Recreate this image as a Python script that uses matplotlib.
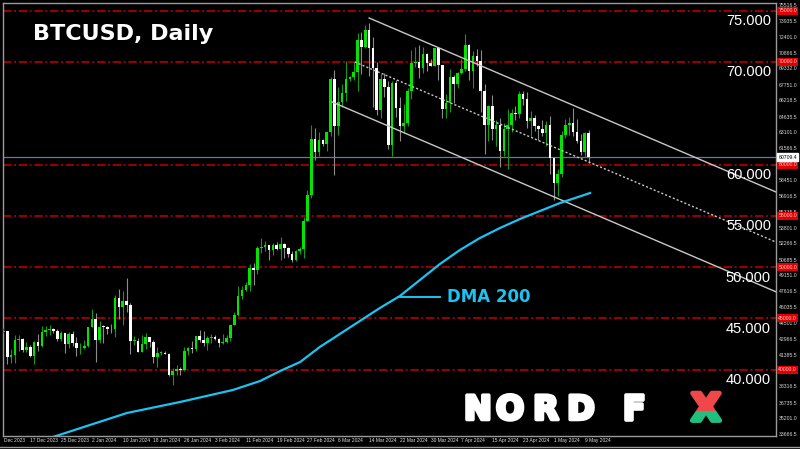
import matplotlib.pyplot as plt
import matplotlib.transforms as mtransforms
import matplotlib.patheffects as pe
from matplotlib.patches import Rectangle
import numpy as np
import pandas as pd

# daily bars, 10 Dec 2023 .. 10 May 2024 (thousands USD)
start = pd.Timestamp('2023-12-10')
origin = pd.Timestamp('2023-12-09')

closes = [
    # Dec
    43.79, 41.24, 41.48, 42.88, 43.02, 41.94, 42.26, 41.37, 42.66, 42.27, 43.65,
    43.87, 43.99, 43.74, 43.02, 43.58, 42.52, 43.44, 42.59, 42.07, 42.14, 42.28,
    # Jan
    44.18, 44.95, 42.85, 44.18, 44.16, 43.97, 43.93, 46.97, 46.12, 46.66, 46.34,
    42.78, 42.84, 41.73, 42.51, 43.15, 42.74, 41.26, 41.62, 41.67, 41.55, 39.51,
    39.85, 40.08, 39.93, 41.82, 42.12, 42.03, 43.30, 42.94, 42.58,
    # Feb
    43.08, 43.18, 43.01, 42.58, 42.66, 43.09, 44.34, 45.30, 47.15, 47.77, 48.29,
    49.96, 49.73, 51.83, 51.94, 52.16, 51.66, 52.12, 51.78, 52.28, 51.84, 51.30,
    50.73, 51.57, 51.73, 54.50, 57.05, 62.50, 61.20,
    # Mar
    62.44, 62.03, 63.17, 68.33, 63.80, 66.10, 66.93, 68.30, 68.50, 69.02, 72.10,
    71.48, 73.08, 71.40, 69.40, 65.30, 68.39, 67.60, 61.91, 67.91, 65.49, 63.78,
    64.06, 67.21, 69.88, 69.99, 69.45, 70.74, 69.89, 69.64, 71.33,
    # Apr
    69.70, 65.45, 65.97, 68.51, 67.84, 68.90, 69.36, 71.62, 69.14, 70.59, 70.06,
    67.19, 63.82, 65.74, 63.42, 63.81, 61.28, 63.51, 63.84, 64.99, 64.93, 66.84,
    66.41, 64.28, 64.50, 63.77, 63.46, 63.12, 63.84, 60.64,
    # May
    58.25, 59.12, 62.89, 63.89, 64.03, 63.16, 62.33, 61.19, 63.05, 60.709,
]
highs = [
    44.04, 43.81, 42.05, 43.43, 43.42, 43.08, 42.70, 42.43, 42.75, 43.48, 44.28,
    44.24, 44.37, 44.02, 43.94, 43.79, 43.60, 43.68, 43.80, 43.14, 42.60, 42.90,
    44.18, 45.90, 45.50, 44.73, 44.35, 44.23, 44.50, 47.25, 47.90, 47.68, 48.96,
    46.49, 43.25, 43.05, 43.40, 43.57, 43.20, 42.93, 42.19, 41.83, 41.87, 41.65,
    40.13, 40.50, 40.27, 42.20, 42.20, 42.84, 43.31, 43.84, 43.74,
    43.29, 43.48, 43.38, 43.12, 43.50, 43.38, 44.38, 45.60, 48.20, 48.16, 48.58,
    50.33, 50.38, 52.04, 52.80, 52.57, 52.20, 52.36, 52.48, 52.95, 52.37, 52.00,
    51.54, 51.70, 51.95, 54.90, 57.50, 63.90, 63.60,
    63.15, 62.45, 63.20, 68.50, 69.20, 67.60, 67.90, 70.10, 68.60, 69.95, 72.80,
    72.90, 73.65, 73.78, 72.40, 70.00, 68.85, 68.90, 68.10, 68.10, 68.20, 66.60,
    65.90, 67.50, 71.15, 71.50, 71.70, 71.50, 70.90, 70.30, 71.35,
    71.35, 69.70, 66.90, 69.30, 68.75, 69.00, 70.30, 72.75, 71.75, 71.10, 71.30,
    71.20, 67.90, 65.80, 66.80, 64.35, 64.50, 64.10, 65.45, 65.40, 65.70, 67.20,
    67.20, 67.05, 65.25, 64.80, 63.90, 64.35, 64.20, 64.70,
    60.75, 59.55, 63.30, 64.45, 64.60, 65.50, 64.40, 63.00, 63.20, 63.40,
]
lows = [
    43.58, 40.60, 40.65, 40.67, 41.82, 41.69, 41.69, 41.25, 40.55, 41.82, 42.21,
    43.30, 43.42, 43.59, 42.80, 42.76, 41.66, 42.14, 42.35, 41.33, 41.54, 41.97,
    42.20, 44.18, 40.75, 42.63, 42.61, 43.45, 43.60, 43.20, 44.90, 44.33, 45.60,
    41.50, 42.40, 41.72, 41.72, 42.05, 42.20, 40.68, 40.28, 41.45, 41.50, 39.43,
    38.50, 39.50, 39.52, 39.83, 41.40, 41.60, 41.80, 42.68, 42.30,
    41.88, 42.58, 42.89, 42.26, 42.55, 42.59, 42.80, 44.34, 45.25, 46.90, 47.70,
    47.70, 48.30, 49.30, 51.35, 51.60, 50.70, 51.16, 51.70, 50.70, 50.85, 50.95,
    50.52, 50.60, 51.28, 50.92, 54.45, 56.70, 60.40,
    60.80, 61.80, 61.35, 62.80, 59.00, 62.90, 65.60, 66.20, 68.10, 68.20, 67.20,
    68.80, 71.35, 68.60, 65.60, 64.80, 64.55, 66.60, 61.55, 60.80, 64.60, 62.30,
    63.05, 63.80, 66.40, 69.50, 68.40, 68.90, 69.10, 69.60, 69.60,
    68.20, 64.50, 64.50, 65.10, 66.00, 67.45, 68.80, 69.10, 68.20, 67.50, 69.60,
    65.10, 61.00, 62.30, 62.40, 61.80, 59.80, 60.80, 59.60, 63.20, 64.30, 64.55,
    65.85, 63.60, 62.80, 63.30, 62.40, 62.80, 61.80, 59.10,
    56.55, 56.90, 58.80, 62.60, 62.90, 62.80, 62.10, 60.90, 60.70, 60.20,
]
first_open = 43.72

# 200-day moving average (day index, price)
dma_days = [13.9, 33.1, 46.9, 60.6, 67.7, 72.9, 78.1, 83.2, 88.4, 93.6, 98.8,
            104.0, 109.2, 114.4, 119.6, 124.8, 130.0, 135.2, 140.4, 145.6,
            149.5, 153.4]
dma_vals = [33439, 35778, 36850, 38020, 38898, 39873, 40750, 42213, 43480,
            44747, 46015, 47185, 48745, 50305, 51670, 52839, 53814, 54692,
            55472, 56252, 56739, 57227]

# descending channel (start day, start price, end day, end price)
chan_top = (96.0, 74290, 202.0, 57277)
chan_mid = (92.3, 70000, 202.0, 52393)
chan_bot = (86.4, 66100, 202.0, 47546)

levels = [75000, 70000, 60000, 55000, 50000, 45000, 40000]
level_text = ['75.000', '70.000', '60.000', '55.000', '50.000', '45.000', '40.000']
scale_vals = [75516.5, 73935.5, 72401.0, 70866.5, 69332.0, 67751.0, 66218.5,
              64635.5, 63101.0, 61566.5, 60032.0, 58451.0, 56916.5, 55335.5,
              53801.0, 52266.5, 50685.5, 49151.0, 47616.5, 46035.5, 44501.0,
              42966.5, 41385.5, 39851.0, 38316.5, 36735.5, 35201.0, 33666.5]
last_price = 60709.4
date_ticks = pd.date_range('2023-12-09', '2024-05-09', freq='8D')

c = np.array(closes) * 1000
h = np.array(highs) * 1000
l = np.array(lows) * 1000
o = np.concatenate([[first_open * 1000], c[:-1]])
dates = pd.date_range(start, periods=len(c), freq='D')
x = np.array((dates - origin).days, dtype=float)

fig = plt.figure(figsize=(8, 4.49), dpi=100, facecolor='black')
W, H = 800, 449
ax = fig.add_axes([3 / W, 13 / H, 773 / W, 433 / H], facecolor='black')
ax.set_xlim(0.91, 201.7)
ax.set_ylim(33535, 75751)
for s in ax.spines.values():
    s.set_color('#9a9a9a')
    s.set_linewidth(1.0)
ax.set_xticks([])
ax.set_yticks([])

# horizontal levels
for lv in levels:
    ax.axhline(lv, color='#b40000', lw=1.2, ls=(0, (5, 1.6, 1.2, 1.6)), zorder=1)
ax.axhline(last_price, color='#5d7d9c', lw=0.9, zorder=1)

# candles
up = c >= o
wick_col = np.where(up, '#139c13', '#8c8c8c')
ax.vlines(x, l, h, colors=wick_col, lw=0.8, zorder=3)
body_lo = np.minimum(o, c)
body_h = np.maximum(np.abs(c - o), 70)
ax.bar(x[up], body_h[up], bottom=body_lo[up], width=0.68,
       color='#00e600', lw=0, zorder=4)
ax.bar(x[~up], body_h[~up], bottom=body_lo[~up], width=0.68,
       color='#ffffff', lw=0, zorder=4)

# channel
for (x0, y0, x1, y1), ls in [(chan_top, '-'), (chan_bot, '-'), (chan_mid, (0, (1.5, 1.5)))]:
    ax.plot([x0, x1], [y0, y1], color='#c8c8c8', lw=1.0, ls=ls, zorder=5)

# moving average
ax.plot(dma_days, dma_vals, color='#1cc3f2', lw=1.6, zorder=6,
        solid_joinstyle='round')
fig.add_artist(plt.Line2D([398 / W, 440 / W], [1 - 297 / H, 1 - 297 / H],
                          color='#1cc3f2', lw=1.4))
fig.text(447 / W, 1 - 297 / H, 'DMA 200', color='#1cc3f2', fontsize=12,
         fontweight='bold', va='center', ha='left')

# big level labels
off = mtransforms.offset_copy(ax.transData, fig=fig, x=0, y=-10.5, units='dots')
for lv, t in zip(levels, level_text):
    ax.text(200.4, lv, t, transform=off, color='white', fontsize=10.5,
            family='Liberation Sans', ha='right', va='center', zorder=8)

# right price scale
tr = mtransforms.blended_transform_factory(ax.transAxes, ax.transData)
for v in scale_vals:
    ax.text(1.004, v, f'{v:.1f}', transform=tr, color='#d8d8d8', fontsize=3.7,
            family='Liberation Sans', ha='left', va='center', clip_on=False)
for lv in levels:
    ax.text(1.003, lv, f'{lv:.1f}', transform=tr, color='#ffc8c8', fontsize=3.7,
            family='Liberation Sans', ha='left', va='center', clip_on=False, zorder=9,
            bbox=dict(boxstyle='square,pad=0.3', fc='#e00000', ec='none'))
ax.text(1.003, last_price, f'{last_price:.1f}', transform=tr, color='black',
        fontsize=3.7, family='Liberation Sans', ha='left', va='center',
        clip_on=False, zorder=9,
        bbox=dict(boxstyle='square,pad=0.3', fc='white', ec='white'))

# date labels
trx = mtransforms.blended_transform_factory(ax.transData, fig.transFigure)
for i, d in enumerate(date_ticks):
    xd = (d - origin).days
    lab = f'{d.day} {d:%b %Y}' if i > 0 else f'{d:%b %Y}'
    ax.text(max(xd, 1.2), 1 - 440.5 / H, lab, transform=trx, color='#e0e0e0',
            fontsize=3.5, family='Liberation Sans', ha='left', va='center',
            clip_on=False)
fig.add_artist(plt.Line2D([0, 1], [1 - 447 / H, 1 - 447 / H], color='#9a9a9a', lw=1))

# title
fig.text(33 / W, 1 - 33.5 / H, 'BTCUSD, Daily', color='white', fontsize=16,
         fontweight='bold', va='center', ha='left')

# logo
heavy = [pe.withStroke(linewidth=2.6, foreground='white')]
for ch, cx in zip('NORDF', [478, 510, 546, 581, 634]):
    fig.text(cx / W, 1 - 410 / H, ch, color='white', fontsize=24, fontweight='bold',
             ha='center', va='center', path_effects=heavy)
for col, y0 in [('#f04848', 410.5), ('#1fbf7f', 449)]:
    t = fig.text(706 / W, 1 - 410.5 / H, 'X', color=col, fontsize=27, fontweight='bold',
                 ha='center', va='center',
                 path_effects=[pe.withStroke(linewidth=3.5, foreground=col)])
    clip = Rectangle((600, H - y0), 200, 38.5, transform=None)
    t.set_clip_path(clip)

fig.savefig('out.png', dpi=100, facecolor='black')
